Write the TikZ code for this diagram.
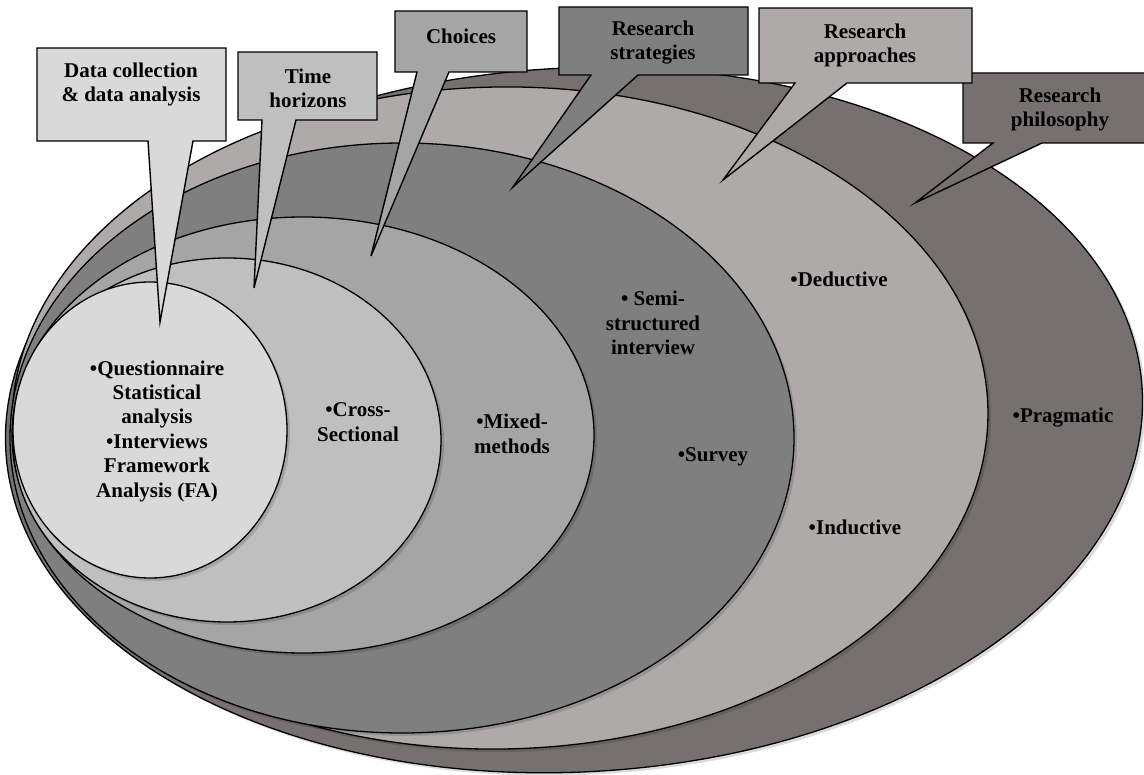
\documentclass[tikz,border=0pt]{standalone}
\usepackage{fontspec}
\setmainfont{Liberation Serif}
\definecolor{cphil}{HTML}{767170}
\definecolor{cappr}{HTML}{AEAAA9}
\definecolor{cstrat}{HTML}{7F7F7F}
\definecolor{cchoice}{HTML}{A5A5A5}
\definecolor{ctime}{HTML}{BFBFBF}
\definecolor{cdata}{HTML}{D9D9D9}
\begin{document}
\begin{tikzpicture}[x=1pt,y=-1pt,
  ring/.style={draw=black, line width=1.3pt},
  ringshadow/.style={fill=black, fill opacity=0.14, draw=none},
  callout/.style={draw=black, line width=1.4pt, line join=miter},
  lbl/.style={font=\bfseries\fontsize{21}{24}\selectfont, align=center, inner sep=0pt, text=black},
  inlbl/.style={font=\bfseries\fontsize{21}{24.4}\selectfont, align=center, inner sep=0pt, text=black}
]
\useasboundingbox (0,0) rectangle (1144,775);

% the nested layers, outermost first, each with a soft offset shadow
\begin{scope}[rotate around={3:(574,420)}]
  \fill[ringshadow] (577,423) ellipse [x radius=569, y radius=352];
  \filldraw[ring, fill=cphil] (574,420) ellipse [x radius=569, y radius=352];
\end{scope}
\begin{scope}[rotate around={1:(500,418)}]
  \fill[ringshadow] (503,421) ellipse [x radius=488, y radius=331];
  \filldraw[ring, fill=cappr] (500,418) ellipse [x radius=488, y radius=331];
\end{scope}
\fill[ringshadow] (405,441) ellipse [x radius=392, y radius=295];
\filldraw[ring, fill=cstrat]  (402,438) ellipse [x radius=392, y radius=295];
\fill[ringshadow] (306,438) ellipse [x radius=291, y radius=218];
\filldraw[ring, fill=cchoice] (303,435) ellipse [x radius=291, y radius=218];
\fill[ringshadow] (230,443) ellipse [x radius=214, y radius=182];
\filldraw[ring, fill=ctime]   (227,440) ellipse [x radius=214, y radius=182];
\fill[ringshadow] (153,433) ellipse [x radius=137, y radius=148];
\filldraw[ring, fill=cdata]   (150,430) ellipse [x radius=137, y radius=148];

% callouts with their pointers
\draw[callout, fill=cphil] (963,73) -- (1147,73) -- (1147,143) -- (1042,143)
  -- (915,203) coordinate (tipphil) -- (993,143) -- (963,143) -- cycle;
\draw[callout, fill=cappr] (759,8) -- (972,8) -- (972,83) -- (847,83)
  -- (723,180) coordinate (tipappr) -- (795,83) -- (759,83) -- cycle;
\draw[callout, fill=cstrat] (559,7) -- (748,7) -- (748,75) -- (638,75)
  -- (513,187) coordinate (tipstrat) -- (591,75) -- (559,75) -- cycle;
\draw[callout, fill=cchoice] (395,11) -- (527,11) -- (527,72) -- (449,72)
  -- (371,256) coordinate (tipchoice) -- (417,72) -- (395,72) -- cycle;
\draw[callout, fill=ctime] (238,52) -- (377,52) -- (377,120) -- (296,120)
  -- (254,288) coordinate (tiptime) -- (262,120) -- (238,120) -- cycle;
\draw[callout, fill=cdata] (37,48) -- (226,48) -- (226,141) -- (193,141)
  -- (160,322) coordinate (tipdata) -- (148,141) -- (37,141) -- cycle;

% callout titles
\node[lbl] (tphil)   at (1060,109) {Research\\philosophy};
\node[lbl] (tappr)   at (865,45)   {Research\\approaches};
\node[lbl] (tstrat)  at (653,43)   {Research\\strategies};
\node[lbl] (tchoice) at (461,36)   {Choices};
\node[lbl] (ttime)   at (308,88)   {Time\\horizons};
\node[lbl] (tdata)   at (131,84)   {Data collection\\\& data analysis};

% layer contents
\node[inlbl] (ldata)  at (157,431) {•Questionnaire\\Statistical\\analysis\\•Interviews\\Framework\\Analysis (FA)};
\node[inlbl] (ltime)  at (358,422) {•Cross-\\Sectional};
\node[inlbl] (lchoice) at (512,434) {•Mixed-\\methods};
\node[inlbl] (lsemi)  at (653,323) {• Semi-\\structured\\interview};
\node[inlbl] (lsurv)  at (713,457) {•Survey};
\node[inlbl] (lded)   at (839,279) {•Deductive};
\node[inlbl] (lind)   at (855,527) {•Inductive};
\node[inlbl] (lprag)  at (1063,418) {•Pragmatic};
\end{tikzpicture}
\end{document}
